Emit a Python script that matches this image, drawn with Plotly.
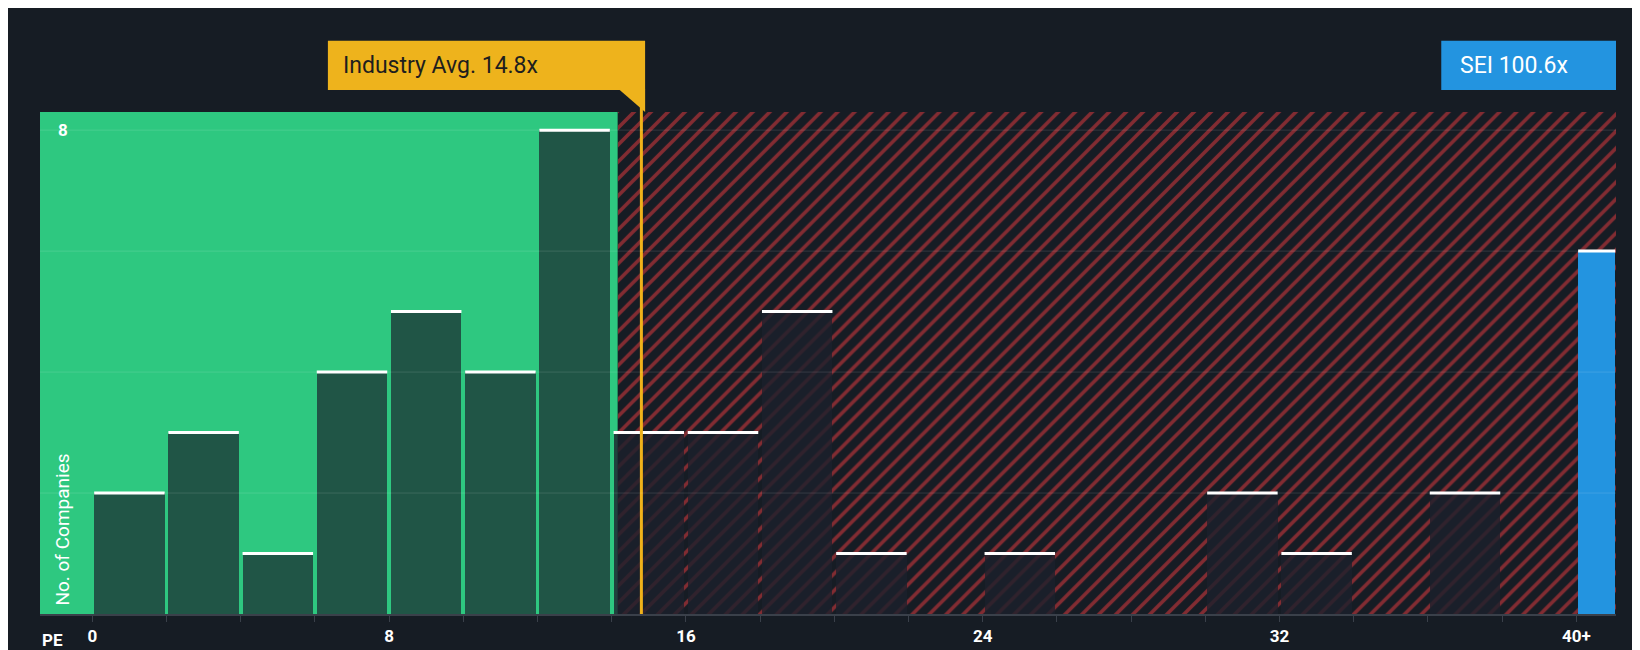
import plotly.graph_objects as go

# histogram of PE ratios, bins of width 2
bin_starts = [0, 2, 4, 6, 8, 10, 12, 14, 16, 18, 20, 22, 24, 26, 28, 30, 32, 34, 36, 38]
counts = [2, 3, 1, 4, 5, 4, 8, 3, 3, 5, 1, 0, 1, 0, 0, 2, 1, 0, 2, 0]
bin_width = 2
company_label = "SEI 100.6x"
company_count = 6
company_pos = 40.55
industry_avg = 14.8
fair_limit = 14.16
x_ticks = [0, 8, 16, 24, 32, 40]
x_tick_text = ["0", "8", "16", "24", "32", "40+"]

x_min, x_max = -1.41, 41.07
y_max = 8.3

bg = "#161c24"
fig = go.Figure()

# hatched "expensive" region
fig.add_trace(go.Bar(
    x=[(fair_limit + x_max) / 2], y=[y_max], width=[x_max - fair_limit],
    marker=dict(color=bg, line=dict(width=0),
                pattern=dict(shape="/", fgcolor="#ee3b3f", bgcolor=bg, size=12, solidity=0.3)),
    hoverinfo="skip", showlegend=False))

centers = [s + bin_width / 2 for s in bin_starts]
colors = ["#205546" if c < fair_limit else "rgba(28,32,44,0.8)" for c in centers]
fig.add_trace(go.Bar(
    x=centers, y=counts, width=1.9, marker=dict(color=colors, line=dict(width=0)),
    showlegend=False))

fig.add_trace(go.Bar(
    x=[company_pos], y=[company_count], width=1.0,
    marker=dict(color="#2394e0", line=dict(width=0)), showlegend=False))

# white caps
cx, cy = [], []
for s, c in zip(bin_starts, counts):
    if c > 0:
        cx += [s + 0.05, s + 1.95, None]
        cy += [c, c, None]
cx += [company_pos - 0.5, company_pos + 0.5, None]
cy += [company_count, company_count, None]
fig.add_trace(go.Scatter(x=cx, y=cy, mode="lines", line=dict(color="white", width=3),
                         hoverinfo="skip", showlegend=False))

shapes = [
    dict(type="rect", xref="x", yref="y", x0=x_min, x1=fair_limit, y0=0, y1=y_max,
         fillcolor="#2ec880", line=dict(width=0), layer="below"),
    dict(type="line", xref="x", yref="paper", x0=industry_avg, x1=industry_avg, y0=0, y1=1.07,
         line=dict(color="#f0b21a", width=3)),
    dict(type="rect", xref="x", yref="paper", x0=6.35, x1=14.9, y0=1.044, y1=1.142,
         fillcolor="#eeb31c", line=dict(width=0)),
    dict(type="path", xref="x", yref="paper",
         path="M 14.2 1.045 L 14.9 1.045 L 14.9 1.0 Z",
         fillcolor="#eeb31c", line=dict(width=0)),
    dict(type="rect", xref="x", yref="paper", x0=36.36, x1=x_max, y0=1.044, y1=1.142,
         fillcolor="#2394e0", line=dict(width=0)),
]
for g in [2, 4, 6, 8]:
    shapes.append(dict(type="line", xref="paper", yref="y", x0=0, x1=1, y0=g, y1=g,
                       line=dict(color="rgba(255,255,255,0.12)", width=1)))

annotations = [
    dict(x=6.7, y=1.093, xref="x", yref="paper", text="Industry Avg. 14.8x", showarrow=False,
         xanchor="left", yanchor="middle", font=dict(color="#1e1e1e", size=23, family="Roboto")),
    dict(x=36.8, y=1.093, xref="x", yref="paper", text=company_label, showarrow=False,
         xanchor="left", yanchor="middle", font=dict(color="white", size=23, family="Roboto")),
    dict(x=-0.8, y=8, xref="x", yref="y", text="<b>8</b>", showarrow=False,
         font=dict(color="white", size=17, family="Roboto")),
    dict(x=-0.8, y=0.1, xref="x", yref="y", text="No. of Companies", textangle=-90, showarrow=False,
         yanchor="bottom", font=dict(color="white", size=19, family="Roboto")),
    dict(x=x_min, y=-0.052, xref="x", yref="paper", text="<b>PE</b>", showarrow=False,
         xanchor="left", yanchor="middle", font=dict(color="white", size=17, family="Roboto")),
]

fig.update_layout(
    width=1640, height=650, paper_bgcolor=bg, plot_bgcolor=bg,
    margin=dict(l=32, r=32, t=104, b=42), barmode="overlay", bargap=0,
    shapes=shapes, annotations=annotations,
    xaxis=dict(range=[x_min, x_max], tickvals=x_ticks, ticktext=["<b>%s</b>" % t for t in x_tick_text],
               showgrid=False, zeroline=False, showline=True, linecolor="#3a404a", linewidth=2,
               ticks="outside", tickcolor="#3a404a", ticklen=6,
               minor=dict(tickvals=list(range(2, 40, 2)), ticks="outside", ticklen=6, tickcolor="#3a404a"),
               tickfont=dict(color="white", size=17, family="Roboto")),
    yaxis=dict(range=[0, y_max], showgrid=False, zeroline=False, showticklabels=False),
)

fig.write_html("out.html")
